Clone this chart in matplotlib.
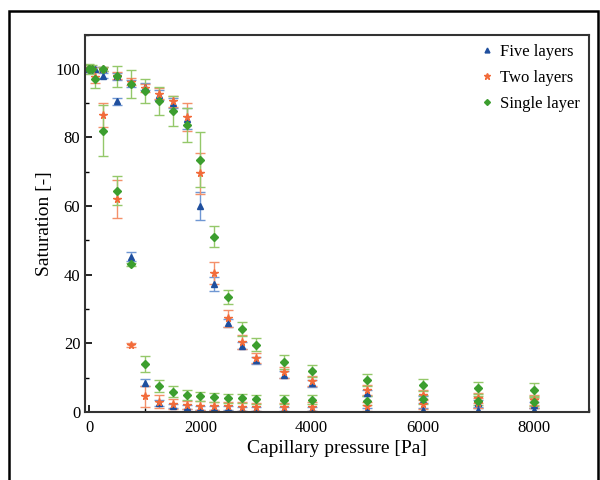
import numpy as np
import matplotlib.pyplot as plt
from matplotlib.patches import Rectangle
from matplotlib.lines import Line2D
from matplotlib.ticker import MultipleLocator

plt.rcParams['font.family'] = ['Liberation Serif', 'DejaVu Serif']

# pressures for the two branches
p_up = [0, 250, 500, 750, 1000, 1250, 1500, 1750, 2000, 2250, 2500, 2750, 3000, 3500, 4000, 5000, 6000, 7000, 8000]
p_low = [0, 50, 100, 250, 500, 750, 1000, 1250, 1500, 1750, 2000, 2250, 2500, 2750, 3000, 3500, 4000, 5000, 6000, 7000, 8000]

# five layers
five_up = [100, 100, 97.8, 95.8, 94.8, 92.3, 90.0, 85.5, 60.0, 37.3, 25.9, 19.3, 15.0, 10.8, 8.3, 5.5, 3.5, 2.5, 2.0]
five_up_err = [0.5, 0.5, 1.0, 1.0, 1.0, 1.5, 1.5, 3.0, 4.0, 2.0, 1.2, 1.0, 1.0, 1.0, 1.0, 1.0, 1.0, 1.0, 1.0]
five_low = [100, 100, 100, 98.0, 90.5, 45.2, 8.5, 2.6, 1.8, 1.3, 1.2, 1.0, 1.0, 0.9, 0.8, 0.8, 0.7, 0.6, 0.6, 0.5, 0.5]
five_low_err = [0.5, 0.5, 0.5, 0.7, 1.0, 1.3, 1.0, 0.8, 0.6, 0.6, 0.6, 0.6, 0.6, 0.6, 0.6, 0.6, 0.6, 0.6, 0.6, 0.6, 0.6]

# two layers
two_up = [100, 100, 98.0, 96.2, 94.5, 92.8, 90.5, 86.0, 69.5, 40.5, 27.3, 20.3, 15.8, 11.5, 9.0, 6.3, 5.0, 4.0, 3.5]
two_up_err = [0.5, 0.5, 1.0, 1.0, 1.2, 1.5, 1.5, 4.0, 6.0, 3.3, 2.5, 2.0, 1.5, 1.5, 1.5, 1.5, 1.5, 1.5, 1.5]
two_low = [100, 100, 97.5, 86.5, 62.0, 19.5, 4.5, 3.0, 2.3, 2.0, 1.8, 1.7, 1.6, 1.5, 1.4, 1.3, 1.5, 1.6, 2.3, 2.5, 2.6]
two_low_err = [0.5, 0.5, 1.5, 3.5, 5.5, 0.7, 3.0, 2.0, 1.5, 1.3, 1.3, 1.3, 1.3, 1.3, 1.3, 1.3, 1.3, 1.3, 1.5, 1.5, 1.5]

# single layer
one_up = [100, 100, 97.8, 95.6, 93.4, 90.6, 87.7, 83.7, 73.5, 51.1, 33.4, 24.2, 19.6, 14.6, 11.9, 9.3, 7.8, 7.0, 6.5]
one_up_err = [1.0, 0.6, 3.0, 4.0, 3.5, 4.0, 4.5, 5.0, 8.0, 3.0, 2.0, 2.0, 2.0, 2.0, 1.8, 1.8, 1.8, 1.8, 1.8]
one_low = [100, 100, 97.0, 82.0, 64.5, 43.0, 14.0, 7.5, 5.9, 4.9, 4.5, 4.3, 4.0, 3.9, 3.6, 3.5, 3.5, 3.3, 3.6, 3.2, 3.0]
one_low_err = [1.5, 1.0, 2.5, 7.5, 4.3, 0.5, 2.3, 1.8, 1.5, 1.5, 1.3, 1.3, 1.3, 1.3, 1.3, 1.3, 1.3, 1.3, 1.3, 1.3, 1.3]

fig = plt.figure(figsize=(6, 4.8), dpi=100)
ax = fig.add_axes([0.142, 0.142, 0.840, 0.786])

# outer frame round the picture
fig.patches.append(Rectangle((0.015, -0.05), 0.982, 1.027, transform=fig.transFigure,
                             fill=False, edgecolor='black', linewidth=1.8))

series = [
    (five_up, five_up_err, five_low, five_low_err, '^', '#1f4f9e', '#6f97d3', 4.5, 'Five layers'),
    (two_up, two_up_err, two_low, two_low_err, '*', '#f26b3a', '#f4906a', 5.5, 'Two layers'),
    (one_up, one_up_err, one_low, one_low_err, 'D', '#3c9e2e', '#94c86a', 4.0, 'Single layer'),
]

handles = []
for up, up_err, low, low_err, m, c, ec, ms, lab in series:
    ax.errorbar(p_up, up, yerr=up_err, fmt=m, color=c, ecolor=ec, ms=ms,
                elinewidth=1.0, capsize=3.5, capthick=1.0)
    ax.errorbar(p_low, low, yerr=low_err, fmt=m, color=c, ecolor=ec, ms=ms,
                elinewidth=1.0, capsize=3.5, capthick=1.0)
    handles.append(Line2D([], [], ls='none', marker=m, color=c, ms=ms - 1, label=lab))

ax.set_xlim(-75, 9000)
ax.set_ylim(0, 110)
ax.xaxis.set_major_locator(MultipleLocator(2000))
ax.xaxis.set_minor_locator(MultipleLocator(1000))
ax.yaxis.set_major_locator(MultipleLocator(20))
ax.yaxis.set_minor_locator(MultipleLocator(10))
ax.tick_params(which='both', direction='in', labelsize=12, top=False, right=False)
ax.tick_params(which='major', length=5, width=1.2)
ax.tick_params(which='minor', length=3, width=1.0)
ax.tick_params(axis='x', pad=6)
for s in ax.spines.values():
    s.set_linewidth(1.5)
    s.set_color('#333333')

ax.set_xlabel('Capillary pressure [Pa]', fontsize=14, labelpad=3)
ax.set_ylabel('Saturation [-]', fontsize=14, labelpad=2)

ax.legend(handles=handles, loc='upper right', frameon=False, fontsize=12, handletextpad=0.3,
          handlelength=1.0, labelspacing=0.6, borderaxespad=0.15)

fig.savefig('out.png', dpi=100)
